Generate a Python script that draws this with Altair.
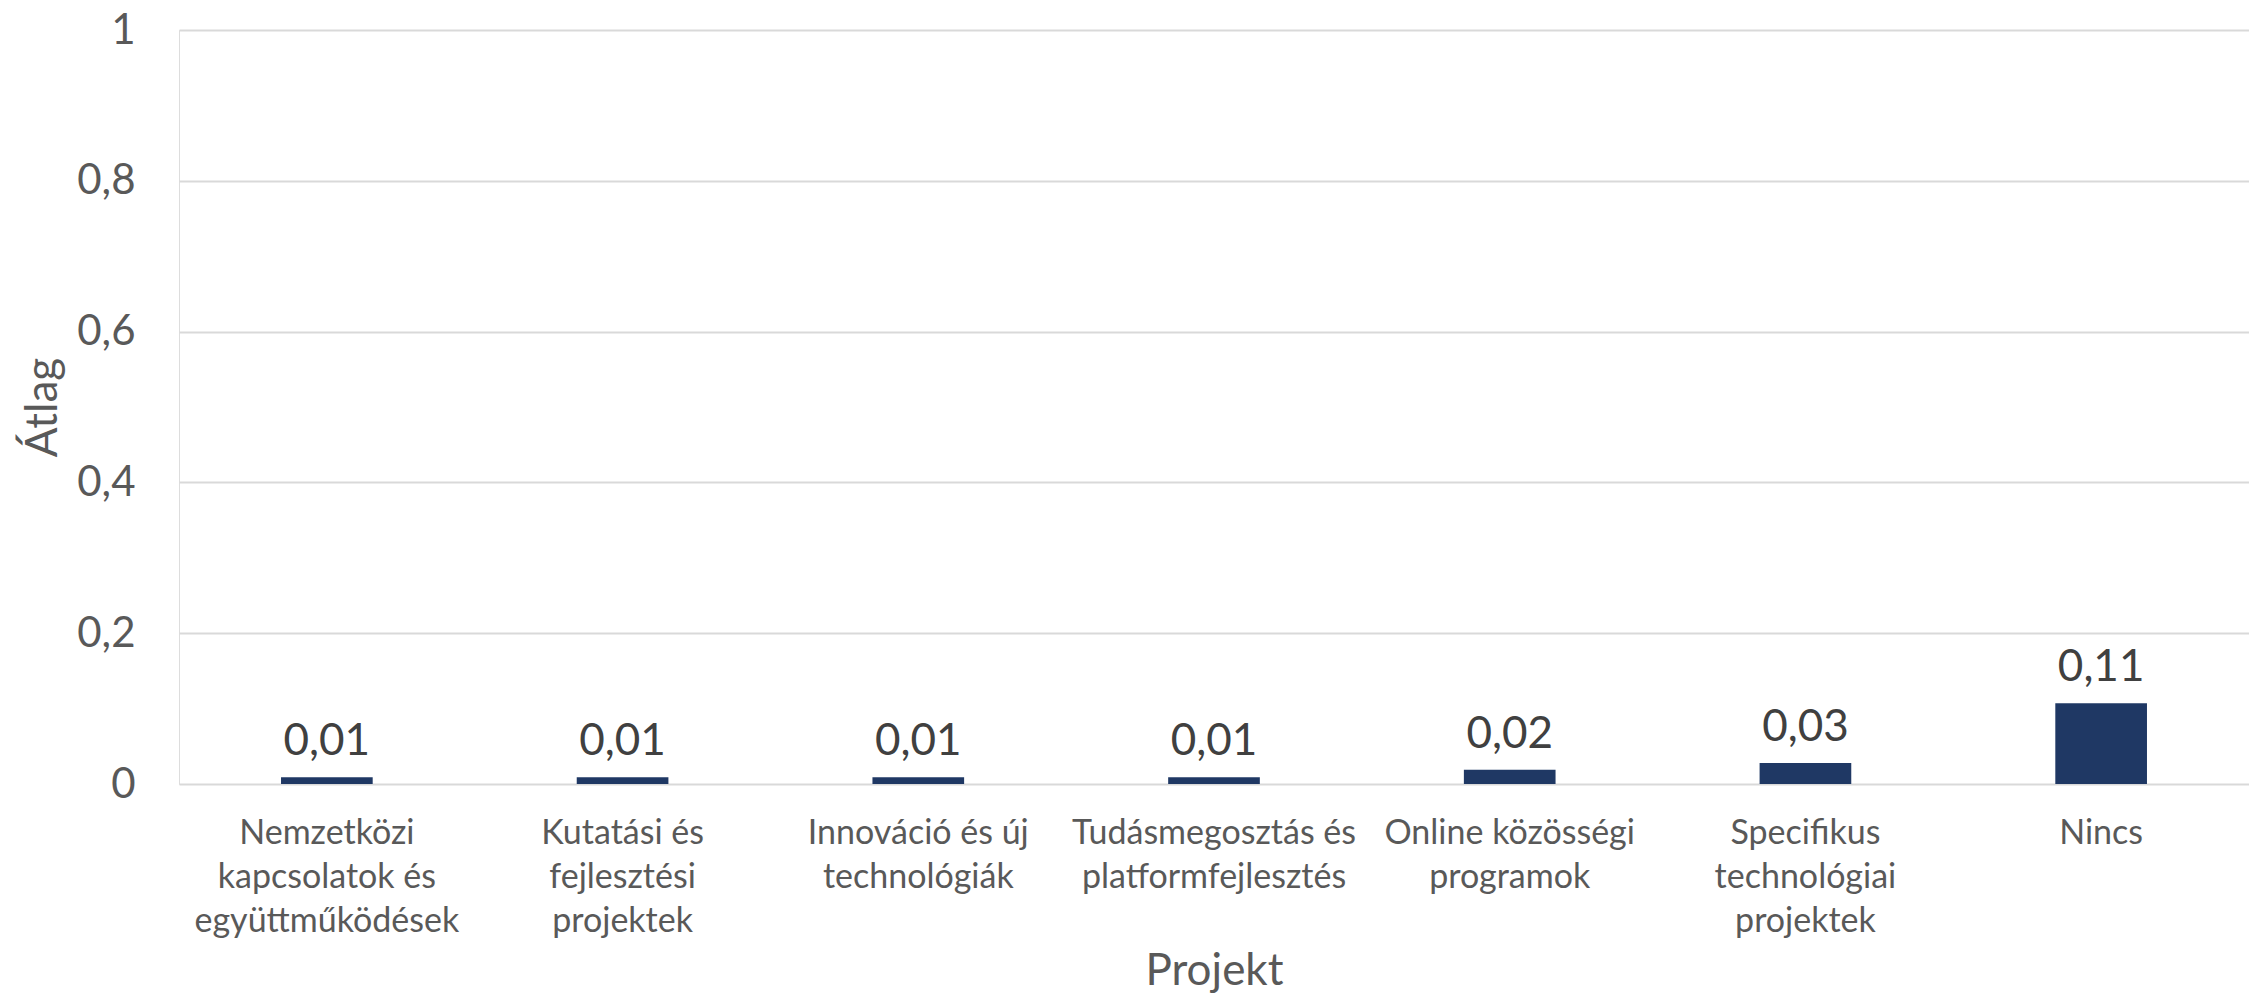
import altair as alt
import pandas as pd

categories = [
    "Nemzetközi|kapcsolatok és|együttműködések",
    "Kutatási és|fejlesztési|projektek",
    "Innováció és új|technológiák",
    "Tudásmegosztás és|platformfejlesztés",
    "Online közösségi|programok",
    "Specifikus|technológiai|projektek",
    "Nincs",
]
values = [0.009, 0.009, 0.009, 0.009, 0.019, 0.028, 0.107]
y_ticks = [0, 0.2, 0.4, 0.6, 0.8, 1]

df = pd.DataFrame({"Projekt": categories, "Atlag": values})

FONT = "Lato"

x_enc = alt.X(
    "Projekt:N",
    sort=None,
    scale=alt.Scale(paddingInner=0.69, paddingOuter=0.345),
    axis=alt.Axis(
        title="Projekt",
        labelAngle=0,
        labelExpr="split(datum.label, '|')",
        labelFont=FONT,
        labelFontSize=34,
        labelLineHeight=44,
        labelColor="#595959",
        labelBaseline="top",
        labelPadding=32,
        labelLimit=400,
        ticks=False,
        tickSize=0,
        domain=False,
        grid=False,
        titleFont=FONT,
        titleFontSize=44,
        titleFontWeight="normal",
        titleColor="#595959",
        titleBaseline="alphabetic",
        titleY=200,
    ),
)

y_enc = alt.Y(
    "Atlag:Q",
    scale=alt.Scale(domain=[0, 1], nice=False),
    axis=alt.Axis(
        title="Átlag",
        values=y_ticks,
        labelExpr="replace(format(datum.value, '.1~f'), '.', ',')",
        labelFont=FONT,
        labelFontSize=42,
        labelColor="#595959",
        labelPadding=44,
        ticks=False,
        tickSize=0,
        domain=False,
        grid=True,
        gridColor="#d9d9d9",
        gridWidth=2,
        titleFont=FONT,
        titleFontSize=44,
        titleFontWeight="normal",
        titleColor="#595959",
        titleAngle=270,
        titleAlign="center",
        titleBaseline="middle",
        titleX=-136,
        titleY=377,
    ),
)

base = alt.Chart(df)

bars = base.mark_bar(color="#1F3864").encode(x=x_enc, y=y_enc)

labels = base.transform_calculate(
    lbl="replace(format(datum.Atlag, '.2f'), '.', ',')"
).mark_text(
    font=FONT, fontSize=44, color="#404040", baseline="alphabetic", dy=-22
).encode(
    x=alt.X("Projekt:N", sort=None),
    y=alt.Y("Atlag:Q"),
    text="lbl:N",
)

chart = (
    alt.layer(bars, labels)
    .properties(
        width=2070,
        height=754,
        autosize=alt.AutoSizeParams(type="none"),
        padding={"left": 171, "top": 22, "right": 0, "bottom": 209},
    )
    .configure_view(stroke=None)
    .configure(background="white")
)

chart.save("out.html", embed_options={"renderer": "svg", "actions": False})
